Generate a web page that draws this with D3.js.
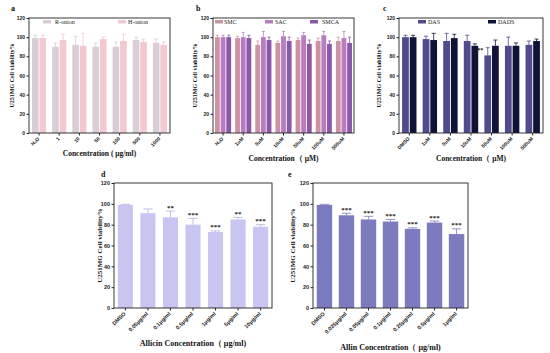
<!DOCTYPE html>
<html>
<head>
<meta charset="utf-8">
<script src="https://cdn.jsdelivr.net/npm/d3@7/dist/d3.min.js"></script>
<style>
  body { margin: 0; background: #fff; }
  svg { display: block; font-family: "Liberation Serif", "Times New Roman", serif; }
  .tick text { font-weight: bold; }
</style>
</head>
<body>
<svg id="fig" width="550" height="353"></svg>
<script>
// --- data ---
var catsA = ['H\u2082O', '1', '10', '50', '100', '500', '1000'];
var seriesA = ['R-onion', 'H-onion'];
var valsA = [[99, 90, 92, 90, 90, 97, 94], [99, 97, 91, 98, 96, 95, 92]];
var errsA = [[3, 4, 9, 4, 5, 3, 4], [3, 6, 13, 2, 7, 3, 3]];

var catsB = ['H\u2082O', '1uM', '5uM', '10uM', '50uM', '100uM', '500uM'];
var seriesB = ['SMC', 'SAC', 'SMCA'];
var valsB = [[100, 99, 92, 94, 97, 96, 96], [100, 100, 100, 101, 102, 102, 99], [100, 99, 97, 96, 93, 93, 94]];
var errsB = [[2, 2, 4, 2, 2, 3, 4], [2, 5, 6, 5, 3, 4, 7], [2, 3, 3, 4, 4, 3, 6]];

var catsC = ['DMSO', '1uM', '5uM', '10uM', '50uM', '100uM', '500uM'];
var seriesC = ['DAS', 'DADS'];
var valsC = [[100, 98, 96, 96, 81, 91, 92], [100, 97, 99, 91, 91, 91, 96]];
var errsC = [[2, 3, 8, 6, 8, 9, 4], [2, 7, 4, 2, 6, 3, 2]];
var starsC = [['', '', '', '', '***', '', ''], ['', '', '', '', '', '', '']];

var catsD = ['DMSO', '0.05\u03bcg/ml', '0.1\u03bcg/ml', '0.5\u03bcg/ml', '1\u03bcg/ml', '5\u03bcg/ml', '10\u03bcg/ml'];
var valsD = [99, 91, 87, 80, 73, 85, 78];
var errsD = [0.5, 4, 6, 6, 1, 2, 2];
var starsD = ['', '', '**', '***', '***', '**', '***'];

var catsE = ['DMSO', '0.025\u03bcg/ml', '0.05\u03bcg/ml', '0.1\u03bcg/ml', '0.25\u03bcg/ml', '0.5\u03bcg/ml', '1\u03bcg/ml'];
var valsE = [99, 89, 85, 83, 76, 82, 71];
var errsE = [0.5, 2, 3, 2, 1, 1.5, 5];
var starsE = ['', '***', '***', '***', '***', '***', '***'];

var yTicks = [0, 20, 40, 60, 80, 100, 120];

var svg = d3.select('#fig');

function panel(o) {
  var g = svg.append('g');
  var w = o.x1 - o.x0, h = o.y1 - o.y0;
  var x = d3.scaleBand().domain(o.cats).range([o.x0, o.x1]).paddingInner(o.padIn).paddingOuter(o.padOut);
  var xs = d3.scaleBand().domain(d3.range(o.vals.length)).range([0, x.bandwidth()]).paddingInner(o.sub || 0);
  var y = d3.scaleLinear().domain([0, 120]).range([o.y1, o.y0]);

  o.vals.forEach(function(v, s) {
    var col = o.colors[s];
    var gs = g.append('g');
    gs.selectAll('rect').data(v).enter().append('rect')
      .attr('x', function(d, i) { return x(o.cats[i]) + xs(s); })
      .attr('y', function(d) { return y(d); })
      .attr('width', xs.bandwidth())
      .attr('height', function(d) { return y(0) - y(d); })
      .attr('fill', col);
    // error bars, upward only
    v.forEach(function(d, i) {
      var cx = x(o.cats[i]) + xs(s) + xs.bandwidth() / 2;
      var cw = Math.max(1.5, xs.bandwidth() * 0.3);
      var ec = o.errColor ? o.errColor[s] : col;
      gs.append('line').attr('x1', cx).attr('x2', cx).attr('y1', y(d)).attr('y2', y(d + o.errs[s][i]))
        .attr('stroke', ec).attr('stroke-width', 0.8);
      gs.append('line').attr('x1', cx - cw).attr('x2', cx + cw).attr('y1', y(d + o.errs[s][i])).attr('y2', y(d + o.errs[s][i]))
        .attr('stroke', ec).attr('stroke-width', 0.8);
      var st = o.stars && o.stars[s][i];
      if (st) {
        g.append('text').attr('x', o.starLeft ? cx - xs.bandwidth() / 2 - 1 : cx)
          .attr('y', y(d + o.errs[s][i]) - 1.5 + (o.starDy || 0))
          .attr('text-anchor', o.starLeft ? 'end' : 'middle')
          .attr('font-size', o.starSize || 7).attr('font-weight', 'bold').attr('fill', '#222')
          .text(st);
      }
    });
  });

  // frame
  g.append('rect').attr('x', o.x0).attr('y', o.y0).attr('width', w).attr('height', h)
    .attr('fill', 'none').attr('stroke', '#222').attr('stroke-width', 0.9);

  var ya = g.append('g').attr('transform', 'translate(' + o.x0 + ',0)')
    .call(d3.axisLeft(y).tickValues(yTicks).tickSize(2.5).tickPadding(1.5));
  ya.select('.domain').remove();
  ya.selectAll('line').attr('stroke', '#222');
  ya.selectAll('text').attr('font-size', o.tickSize || 5).attr('fill', '#222');

  var xa = g.append('g').attr('transform', 'translate(0,' + o.y1 + ')')
    .call(d3.axisBottom(x).tickSize(2.5).tickSizeOuter(0));
  xa.select('.domain').remove();
  xa.selectAll('line').attr('stroke', '#222');
  xa.selectAll('text').attr('font-size', o.tickSize || 5).attr('fill', '#222')
    .attr('text-anchor', 'end').attr('dy', 0).attr('y', 4)
    .attr('transform', 'rotate(-45, 0, 4) translate(-1, 2)');

  // axis titles
  g.append('text').attr('x', (o.x0 + o.x1) / 2).attr('y', o.titleY)
    .attr('text-anchor', 'middle').attr('font-size', o.titleSize || 7.5).attr('font-weight', 'bold').attr('fill', '#111')
    .text(o.xTitle);
  g.append('text').attr('transform', 'translate(' + o.yTitleX + ',' + (o.y0 + o.y1) / 2 + ') rotate(-90)')
    .attr('text-anchor', 'middle').attr('font-size', o.yTitleSize || 6).attr('font-weight', 'bold').attr('fill', '#111')
    .text('U251MG Cell viability%');

  // panel letter
  g.append('text').attr('x', o.letter[1]).attr('y', o.letter[2]).attr('font-size', 8).attr('font-weight', 'bold').attr('fill', '#111')
    .text(o.letter[0]);

  // legend
  if (o.legend) {
    o.legend.forEach(function(l, s) {
      g.append('rect').attr('x', l[0]).attr('y', o.legendY - 2).attr('width', 8).attr('height', 3.5).attr('fill', o.colors[s]);
      g.append('text').attr('x', l[1]).attr('y', o.legendY + 2).attr('font-size', 6).attr('fill', '#222').text(o.series[s]);
    });
  }
}

panel({
  x0: 29, x1: 170, y0: 18, y1: 133, cats: catsA, vals: valsA, errs: errsA, series: seriesA,
  colors: ['#d9ced6', '#f3c8d1'], padIn: 0.3, padOut: 0.15, sub: 0.12,
  xTitle: 'Concentration ( \u03bcg/ml)', titleY: 156, yTitleX: 14, letter: ['a', 11, 11],
  legend: [[43, 55], [118, 128]], legendY: 22
});

panel({
  x0: 213, x1: 354, y0: 18, y1: 133, cats: catsB, vals: valsB, errs: errsB, series: seriesB,
  colors: ['#cc93a5', '#b97cc2', '#8a58a6'], padIn: 0.2, padOut: 0.1, sub: 0.15,
  xTitle: 'Concentration\uff08 \u03bcM)', titleY: 161, yTitleX: 197, letter: ['b', 196, 11],
  legend: [[215, 224], [265, 275], [310, 322]], legendY: 22
});

panel({
  x0: 399, x1: 543, y0: 18, y1: 133, cats: catsC, vals: valsC, errs: errsC, series: seriesC,
  colors: ['#504b8d', '#0f1437'], padIn: 0.3, padOut: 0.15, sub: 0.12, stars: starsC, starLeft: true, starDy: 6, starSize: 6,
  xTitle: 'Concentration\uff08 \u03bcM)', titleY: 161, yTitleX: 381, letter: ['c', 383, 11],
  legend: [[418, 428], [488, 498]], legendY: 22
});

panel({
  x0: 114, x1: 272, y0: 183, y1: 308, cats: catsD, vals: [valsD], errs: [errsD], series: ['Allicin'],
  colors: ['#c8c6f0'], errColor: ['#b0aee0'], padIn: 0.33, padOut: 0.17, stars: [starsD],
  xTitle: 'Allicin Concentration\uff08 \u03bcg/ml)', titleY: 346, titleSize: 8, yTitleX: 102, yTitleSize: 7, tickSize: 5.5,
  letter: ['d', 101, 177]
});

panel({
  x0: 313, x1: 468, y0: 183, y1: 308, cats: catsE, vals: [valsE], errs: [errsE], series: ['Allin'],
  colors: ['#7c7bbf'], padIn: 0.3, padOut: 0.17, stars: [starsE],
  xTitle: 'Allin Concentration\uff08 \u03bcg/ml)', titleY: 350, titleSize: 8, yTitleX: 295, yTitleSize: 7, tickSize: 5.5,
  letter: ['e', 288, 177]
});
</script>
</body>
</html>
